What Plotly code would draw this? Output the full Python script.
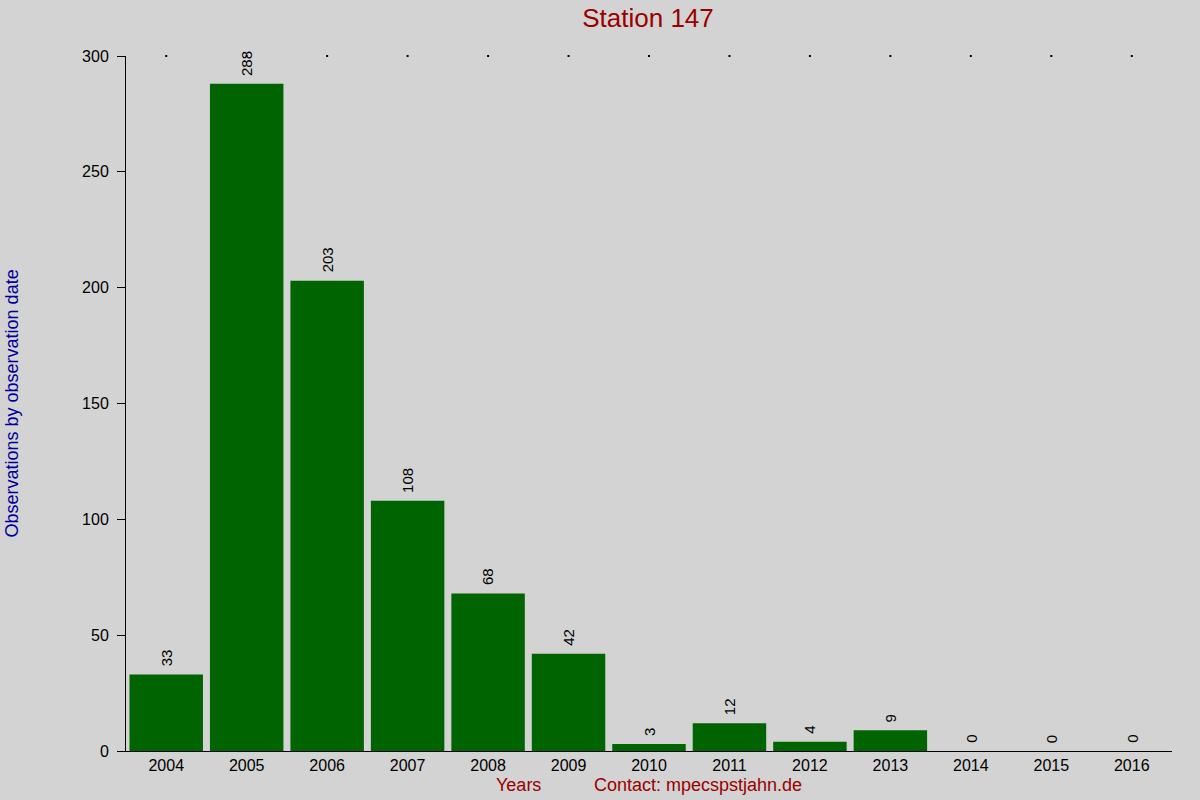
import plotly.graph_objects as go

# observations per year, station 147
years = ["2004", "2005", "2006", "2007", "2008", "2009", "2010",
         "2011", "2012", "2013", "2014", "2015", "2016"]
counts = [33, 288, 203, 108, 68, 42, 3, 12, 4, 9, 0, 0, 0]
y_ticks = [0, 50, 100, 150, 200, 250, 300]

RED = "#990000"
BLUE = "#000099"
FONT = "Liberation Sans, Arial"

fig = go.Figure()

fig.add_trace(go.Bar(
    x=years, y=counts,
    marker=dict(color="#006400", line=dict(width=0)),
    hoverinfo="x+y",
))

# small tick dots along the top edge
fig.add_trace(go.Scatter(
    x=years, y=[max(y_ticks)] * len(years),
    mode="markers",
    marker=dict(color="black", size=2, symbol="square"),
    cliponaxis=False,
    hoverinfo="skip",
))

# value labels above each bar, rotated (category axis -> use the index)
annotations = []
for i, c in enumerate(counts):
    annotations.append(dict(
        x=i, y=c, xref="x", yref="y",
        text=str(c), textangle=-90,
        xanchor="center", yanchor="bottom", yshift=6,
        showarrow=False,
        font=dict(family=FONT, size=15, color="black"),
    ))

annotations += [
    dict(text="Years", xref="paper", yref="paper", x=0.375, y=-0.049,
         xanchor="center", yanchor="middle", showarrow=False,
         font=dict(size=18, color=RED)),
    dict(text="Contact: mpecspstjahn.de", xref="paper", yref="paper", x=0.547, y=-0.049,
         xanchor="center", yanchor="middle", showarrow=False,
         font=dict(size=18, color=RED)),
    dict(text="Observations by observation date", xref="paper", yref="paper",
         x=0, y=0.5, xshift=-115, textangle=-90,
         xanchor="center", yanchor="middle", showarrow=False,
         font=dict(size=18, color=BLUE)),
]

fig.update_layout(
    width=1200, height=800,
    paper_bgcolor="#d3d3d3",
    plot_bgcolor="#d3d3d3",
    showlegend=False,
    bargap=0.087,
    margin=dict(l=126, r=28, t=56, b=49),
    font=dict(family=FONT, size=15, color="black"),
    title=dict(text="Station 147", x=0.54, xanchor="center", y=0.978, yanchor="middle",
               font=dict(size=26, color=RED)),
    annotations=annotations,
)

fig.update_xaxes(
    type="category",
    range=[-0.5, len(years) - 0.5],
    showgrid=False, zeroline=False,
    showline=True, linecolor="black", linewidth=1,
    ticks="", ticklen=0,
    tickfont=dict(size=16, color="black"),
)

fig.update_yaxes(
    range=[0, 300],
    tickvals=y_ticks,
    showgrid=False, zeroline=False,
    showline=True, linecolor="black", linewidth=1,
    ticks="outside", ticklen=8, tickcolor="black",
    ticklabelstandoff=5,
    tickfont=dict(size=16, color="black"),
)

fig.write_html("out.html", config={"displayModeBar": False},
               post_script="document.body.style.margin='0';")
